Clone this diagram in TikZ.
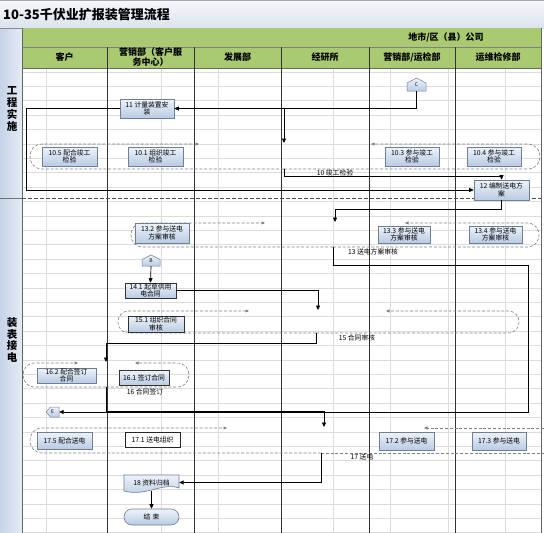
\documentclass[tikz,border=0pt]{standalone}
\usepackage{fontspec}
\setmainfont{Noto Sans CJK SC}
\usetikzlibrary{arrows.meta}
\definecolor{boxtop}{HTML}{EEF3FA}
\definecolor{boxbot}{HTML}{B9CBE3}
\definecolor{boxline}{HTML}{6F7F94}
\definecolor{hdrgreen}{HTML}{A9CA70}
\definecolor{laneL}{HTML}{C6D4E8}
\definecolor{laneR}{HTML}{E4EBF5}
\definecolor{gridc}{HTML}{DCDCDC}
\definecolor{titletop}{HTML}{F6F8FB}
\definecolor{titlebot}{HTML}{DCE3EC}
\begin{document}
\begin{tikzpicture}[x=1pt,y=-1pt,
  box/.style={draw=boxline, line width=0.6pt, top color=boxtop, bottom color=boxbot, align=center, inner sep=0.5pt, font=\fontsize{6.8}{7.6}\selectfont},
  lbl/.style={font=\fontsize{6.8}{7.6}\selectfont, inner sep=0.5pt},
  hdr/.style={font=\bfseries\fontsize{9}{10}\selectfont, align=center, inner sep=0pt},
  lane/.style={font=\bfseries\fontsize{10.5}{11.8}\selectfont, align=center, inner sep=0pt},
  conn/.style={draw=black, line width=0.7pt, -{Triangle[length=4.5pt,width=4pt]}},
  loopln/.style={draw=black!50, line width=0.6pt, dash pattern=on 3pt off 1.8pt},
  looparr/.style={loopln, -{Triangle[length=3.5pt,width=3pt]}},
  offshape/.style={draw=boxline, line width=0.5pt, top color=boxtop, bottom color=boxbot},
  offtxt/.style={inner sep=0pt, font=\fontsize{5}{6}\selectfont},
]
\useasboundingbox (0,0) rectangle (544,533);
\fill[white] (0,0) rectangle (544,533);
% title bar
\shade[top color=titletop,bottom color=titlebot] (0,0) rectangle (544,28);
\draw[black!35, line width=0.6pt] (0,0.3) -- (544,0.3);
\node[anchor=west, font=\bfseries\fontsize{13}{15}\selectfont, inner sep=0pt] (title) at (3,14.5) {10-35千伏业扩报装管理流程};
% lane column
\shade[left color=laneL, right color=laneR] (0,28) rectangle (22,533);
\draw[black!45, line width=0.6pt] (0,28) -- (22,28);
\draw[black!55, line width=0.6pt] (0,198) -- (22,198);
\node[lane] (lane1) at (12,109) {工\\程\\实\\施};
\node[lane] (lane2) at (12,340) {装\\表\\接\\电};
% header
\fill[hdrgreen] (22,28) rectangle (541,68);
\draw[black!50, line width=0.5pt] (22,47) -- (541,47);
\node[hdr] (org) at (446,37.5) {地市/区（县）公司};
\node[hdr] (h1) at (64.5,57.5) {客户};
\node[hdr] (h2) at (150.5,57.5) {营销部（客户服\\务中心）};
\node[hdr] (h3) at (237.5,57.5) {发展部};
\node[hdr] (h4) at (325,57.5) {经研所};
\node[hdr] (h5) at (412,57.5) {营销部/运检部};
\node[hdr] (h6) at (498,57.5) {运维检修部};
% grid
\foreach \i in {0,...,32} {\draw[gridc, line width=0.5pt] (22,71.8+14.4*\i) -- (541,71.8+14.4*\i);}
\foreach \x in {46,161,218,333,390,448,505} {\draw[gridc, line width=0.6pt] (\x,68) -- (\x,533);}
\draw[black!60, line width=0.6pt] (22,68) -- (541,68);
\foreach \x in {107,194,281,369,455} {\draw[black!80, line width=0.7pt] (\x,47) -- (\x,533);}
\draw[black!60, line width=0.7pt] (22,28) -- (22,533);
\draw[black!60, line width=0.7pt] (541,28) -- (541,533);
\draw[black!70, line width=0.7pt, dash pattern=on 4pt off 2pt] (22,198) -- (541,198);

% loop coordinates
\coordinate (j1) at (284,108.5);
\coordinate (l10in) at (284,143);
\coordinate (l10out) at (284,169);
\coordinate (l13in) at (335,222);
\coordinate (l13out) at (333,247);
\coordinate (l15in) at (318,310);
\coordinate (l15out) at (316,333);
\coordinate (l16in) at (106,362);
\coordinate (l16out) at (106,387);
\coordinate (l17in) at (324,427);
\coordinate (l17out) at (321,453);

% loop 10
\draw[looparr] (l10out) -- (42.5,169) .. controls (25.8,169) and (25.8,144) .. (42.5,144) -- (199,144);
\draw[looparr] (l10out) -- (527.5,169) .. controls (544.2,169) and (544.2,144) .. (527.5,144) -- (371,144);
% loop 13
\draw[looparr] (l13out) -- (143,247) .. controls (127,247) and (127,223) .. (143,223) -- (265,223);
\draw[looparr] (l13out) -- (527,247) .. controls (543,247) and (543,223) .. (527,223) -- (405,223);
% loop 15
\draw[looparr] (l15out) -- (129,333) .. controls (114.3,333) and (114.3,311) .. (129,311) -- (249,311);
\draw[looparr] (l15out) -- (508,333) .. controls (522.7,333) and (522.7,311) .. (508,311) -- (386,311);
% loop 16
\draw[looparr] (l16out) -- (35,387) .. controls (19,387) and (19,363) .. (35,363) -- (78,363);
\draw[looparr] (l16out) -- (177,387) .. controls (193,387) and (193,363) .. (177,363) -- (135,363);
% loop 17
\draw[looparr] (l17out) -- (42.5,453) .. controls (25.8,453) and (25.8,428) .. (42.5,428) -- (227,428);
\draw[loopln] (l17out) -- (544,453);
\draw[looparr] (544,428) -- (424,428);

% off-page connector shapes
\path[offshape] (407,91) -- (407,83) -- (416.5,78) -- (426,83) -- (426,91) -- cycle;
\path[offshape] (142,266) -- (142,259.5) -- (151,255) -- (160,259.5) -- (160,266) -- cycle;
\path[offshape] (59,407) -- (50.5,407) -- (46,412) -- (50.5,417) -- (59,417) -- cycle;

% nodes row 1
\node[offtxt, minimum width=19pt, minimum height=13pt] (C) at (416.5,84.5) {C};
\node[box, minimum width=54pt, minimum height=19pt] (n11) at (147,108.5) {11 计量装置安\\装};
\node[box, minimum width=55pt, minimum height=19pt] (n105) at (69.5,156.5) {10.5 配合竣工\\检验};
\node[box, minimum width=55pt, minimum height=19pt] (n101) at (155.5,156.5) {10.1 组织竣工\\检验};
\node[box, minimum width=54pt, minimum height=19pt] (n103) at (412,156.5) {10.3 参与竣工\\检验};
\node[box, minimum width=54pt, minimum height=19pt] (n104) at (494,156.5) {10.4 参与竣工\\检验};
\node[box, minimum width=55pt, minimum height=20pt] (n12) at (501.5,190) {12 编制送电方\\案};
\node[lbl] (t10) at (335,173) {10 竣工检验};
% nodes row 2
\node[box, minimum width=54pt, minimum height=20pt] (n132) at (162,233) {13.2 参与送电\\方案审核};
\node[box, minimum width=52pt, minimum height=17pt] (n133) at (404,234.5) {13.3 参与送电\\方案审核};
\node[box, minimum width=53pt, minimum height=17pt] (n134) at (495.5,234.5) {13.4 参与送电\\方案审核};
\node[lbl] (t13) at (373,252) {13 送电方案审核};
\node[offtxt, minimum width=18pt, minimum height=11pt] (B) at (151,260.5) {B};
\node[box, draw=black!80, minimum width=51pt, minimum height=15pt] (n141) at (150.5,290.5) {14.1 起草供用\\电合同};
\node[box, draw=black!80, minimum width=56pt, minimum height=16pt] (n151) at (156,324) {15.1 组织合同\\审核};
\node[lbl] (t15) at (357,338) {15 合同审核};
\node[box, minimum width=59pt, minimum height=15pt] (n162) at (66.5,375.5) {16.2 配合签订\\合同};
\node[box, draw=black!80, minimum width=50pt, minimum height=15pt] (n161) at (144,377.5) {16.1 签订合同};
\node[lbl] (t16) at (145,392) {16 合同签订};
\node[offtxt, minimum width=13pt, minimum height=10pt] (E) at (52.5,412) {E};
\node[box, minimum width=55pt, minimum height=17pt] (n175) at (64.5,440.5) {17.5 配合送电};
\node[box, draw=black!85, top color=white, bottom color=white, minimum width=55pt, minimum height=15pt] (n171) at (152.5,439.5) {17.1 送电组织};
\node[box, minimum width=55pt, minimum height=18pt] (n172) at (406.5,441) {17.2 参与送电};
\node[box, minimum width=54pt, minimum height=18pt] (n173) at (499,441) {17.3 参与送电};
\node[lbl] (t17) at (362,457) {17 送电};
\path[draw=boxline, line width=0.6pt, top color=boxtop, bottom color=boxbot] (124,475) -- (179,475) -- (179,488) .. controls (162,482) and (146,497) .. (124,491) -- cycle;
\node[lbl, minimum width=55pt, minimum height=16pt] (n18) at (151.5,482.5) {18 资料归档};
\node[box, rounded corners=8pt, minimum width=55pt, minimum height=16pt] (nend) at (151.5,517) {结\,\,束};

% connectors
\draw[conn] (C.south) |- (n11.east);
\draw[conn] (j1) -- (l10in);
\draw[conn] (n11.west) -- ++(-93,0) |- (n12.west);
\draw[conn] (l10out) -- ++(0,7) -| (n12.north);
\draw[conn] (n12.south) -- ++(0,9) -| (l13in);
\draw[conn] (l13out) -- ++(0,18) -- ++(195,0) |- (E.east);
\draw[conn] (B.south) -- (n141.north);
\draw[conn] (n141.east) -| (l15in);
\draw[conn] (l15out) -- ++(0,10) -| (l16in);
\draw[conn] (l16out) |- (324,411) -- (l17in);
\draw[conn] (l17out) |- (n18.east);
\draw[conn] (n18.south) -- (nend.north);
\end{tikzpicture}
\end{document}
